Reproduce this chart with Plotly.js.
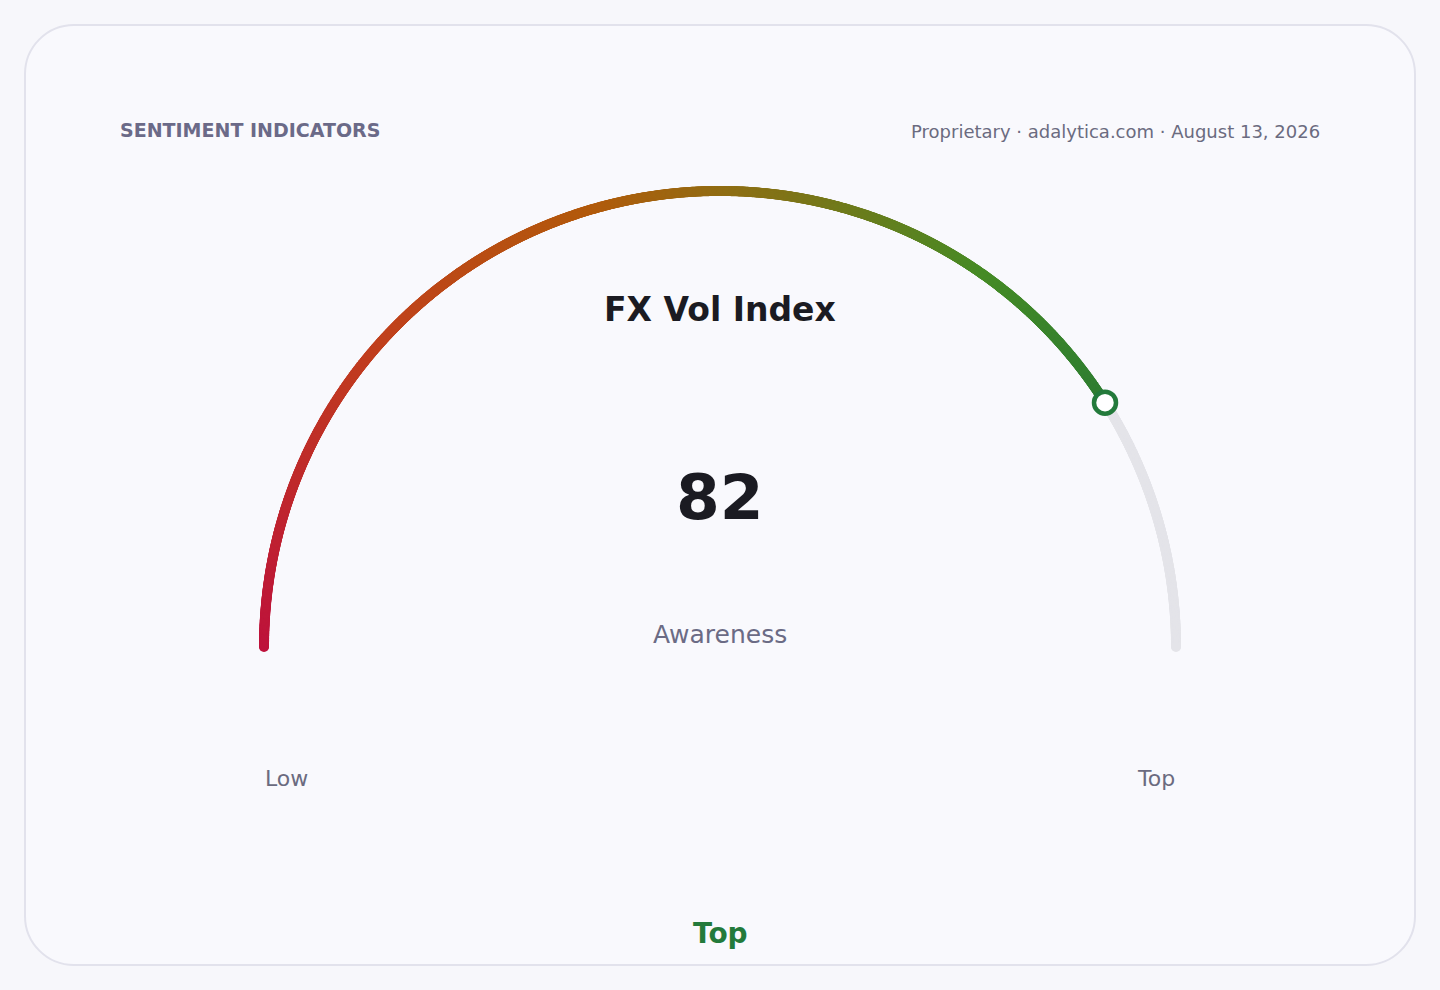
<!DOCTYPE html>
<html>
<head>
<meta charset="utf-8">
<script src="https://cdn.plot.ly/plotly-3.0.1.min.js"></script>
<style>
  html, body { margin: 0; padding: 0; width: 1440px; height: 990px; background: #f7f7fb; overflow: hidden; }
  #card { position: absolute; left: 24px; top: 24px; width: 1388px; height: 938px;
          border: 2px solid #e2e2ec; border-radius: 50px; background: #f9f9fd; }
  #chart { position: absolute; left: 0; top: 0; width: 1440px; height: 990px; }
</style>
</head>
<body>
<div id="card"></div>
<div id="chart"></div>
<script>
// ---- data ----
const gaugeTitle = "FX Vol Index";
const gaugeValue = 82;
const gaugeMin = 0;
const gaugeMax = 100;
const valueLabel = "Awareness";
const endLabels = ["Low", "Top"];
const bandLabel = "Top";
const headerLeft = "SENTIMENT INDICATORS";
const headerRight = "Proprietary · adalytica.com · August 13, 2026";
const gradientStops = [
  [0.00, "#be123c"],
  [0.30, "#c0421c"],
  [0.50, "#b25a0c"],
  [0.62, "#8f6e14"],
  [0.85, "#468b26"],
  [1.00, "#2e7d32"]
];

// ---- layout geometry (pixel-like data units) ----
const CX = 720, CY = 647, R = 456;
const FONT = "DejaVu Sans, Verdana, sans-serif";

function angleOf(v) { return Math.PI * (1 - (v - gaugeMin) / (gaugeMax - gaugeMin)); }
function arcPts(v0, v1, n) {
  const xs = [], ys = [], vs = [];
  for (let i = 0; i <= n; i++) {
    const v = v0 + (v1 - v0) * i / n;
    const a = angleOf(v);
    xs.push(CX + R * Math.cos(a));
    ys.push(CY - R * Math.sin(a));
    vs.push(v);
  }
  return {xs, ys, vs};
}

const track = arcPts(gaugeValue, gaugeMax, 300);
const fill = arcPts(gaugeMin, gaugeValue, 1400);
const aV = angleOf(gaugeValue);

const traces = [
  { type: "scatter", mode: "markers", x: track.xs, y: track.ys, hoverinfo: "skip",
    marker: { size: 10, color: "#e4e4e9", line: { width: 0 } } },
  { type: "scatter", mode: "markers", x: fill.xs, y: fill.ys, hoverinfo: "skip",
    marker: { size: 10, color: fill.vs, cmin: gaugeMin, cmax: gaugeValue,
              colorscale: gradientStops, showscale: false, line: { width: 0 } } },
  { type: "scatter", mode: "markers", x: [CX + R * Math.cos(aV)], y: [CY - R * Math.sin(aV)],
    hoverinfo: "skip",
    marker: { size: 22, color: "#ffffff", line: { width: 4.5, color: "#237a3b" } } }
];

const ann = (text, x, y, size, color, bold, xanchor) => ({
  text: bold ? "<b>" + text + "</b>" : text, x, y, xref: "x", yref: "y",
  showarrow: false, xanchor: xanchor || "center", yanchor: "middle",
  font: { family: FONT, size, color }
});

const layout = {
  width: 1440, height: 990,
  margin: { l: 0, r: 0, t: 0, b: 0 },
  paper_bgcolor: "rgba(0,0,0,0)", plot_bgcolor: "rgba(0,0,0,0)",
  showlegend: false,
  xaxis: { range: [0, 1440], visible: false, fixedrange: true },
  yaxis: { range: [990, 0], visible: false, fixedrange: true },
  annotations: [
    ann(headerLeft, 118, 130, 19, "#6b6a88", true, "left"),
    ann(headerRight, 1322, 131, 18, "#6b6b80", false, "right"),
    ann(gaugeTitle, CX, 309, 33, "#1b1b22", true),
    ann(String(gaugeValue), CX, 497, 63, "#1b1b22", true),
    ann(valueLabel, CX, 634, 25, "#6b6b85", false),
    ann(endLabels[0], CX - R - 1, 778, 22, "#6b6b80", false, "left"),
    ann(endLabels[1], CX + R + 1, 778, 22, "#6b6b80", false, "right"),
    ann(bandLabel, CX, 933, 28, "#237a3b", true)
  ]
};

Plotly.newPlot("chart", traces, layout, { staticPlot: true, displayModeBar: false });
</script>
</body>
</html>
